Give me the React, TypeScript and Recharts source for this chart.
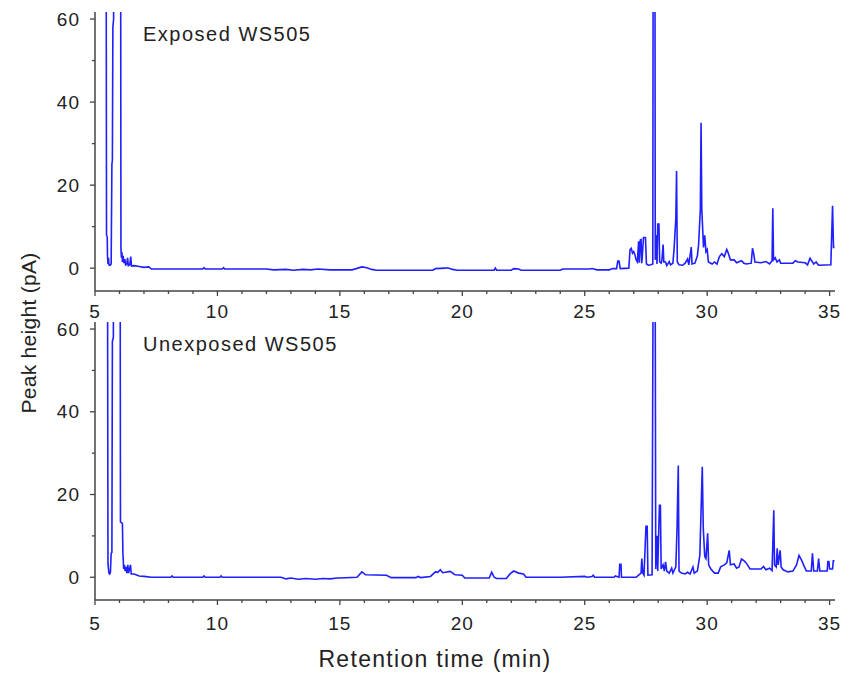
import React from 'react';
import { LineChart, Line, XAxis, YAxis } from 'recharts';

// retention time (min) and peak height (pA)
const exposedTime = [
	5.45, 5.47, 5.5, 5.51, 5.53, 5.55, 5.57, 5.62, 5.66, 5.69, 5.71, 5.73, 5.76, 5.78,
	6.04, 6.06, 6.08, 6.1, 6.12, 6.15, 6.18, 6.22, 6.25, 6.3, 6.33, 6.36, 6.42, 6.46, 6.49,
	6.6, 6.8, 7.0, 7.2, 7.3, 8.0, 9.4, 9.45, 9.5, 10.2, 10.25, 10.3, 12.0, 12.3, 12.8,
	13.1, 13.5, 13.8, 14.1, 14.6, 15.0, 15.5, 15.9, 16.1, 16.3, 16.5, 18.8, 18.9, 19.3,
	19.4, 19.6, 19.8, 21.3, 21.35, 21.4, 22.0, 22.1, 22.3, 22.4, 24.0, 24.1, 25.2, 25.3,
	25.5, 26.0, 26.15, 26.3, 26.35, 26.4, 26.45, 26.8, 26.85, 26.9, 26.95, 27.0, 27.05,
	27.1, 27.15, 27.2, 27.23, 27.27, 27.3, 27.33, 27.4, 27.48, 27.52, 27.6, 27.7, 27.78,
	27.8, 27.86, 27.88, 27.92, 27.95, 27.98, 28.03, 28.06, 28.12, 28.15, 28.2, 28.23,
	28.3, 28.35, 28.45, 28.5, 28.6, 28.65, 28.72, 28.75, 28.78, 28.85, 29.0, 29.1, 29.2,
	29.25, 29.35, 29.38, 29.5, 29.6, 29.65, 29.72, 29.75, 29.78, 29.85, 29.9, 29.95, 30.0,
	30.05, 30.2, 30.3, 30.4, 30.5, 30.6, 30.7, 30.8, 30.85, 30.95, 31.1, 31.2, 31.4, 31.5,
	31.6, 31.8, 31.85, 31.9, 31.95, 32.2, 32.4, 32.55, 32.65, 32.68, 32.71, 32.78, 32.85,
	32.95, 33.0, 33.5, 33.6, 33.7, 34.0, 34.1, 34.2, 34.3, 34.35, 34.45, 34.55, 35.05,
	35.12, 35.16, 35.2,
];
const exposedSignal = [
	120, 8, 7.5, 3, 1, 2.5, 0.8, 0.7, 1, 25, 26, 58, 60, 120,
	120, 4.5, 2.5, 3.8, 1.5, 3, 1.2, 2.2, 0.8, 1, 2.5, 0.6, 0.8, 2.8, 0.5,
	0.6, 0.4, 0.2, 0.3, -0.2, -0.2, -0.2, 0.1, -0.2, -0.2, 0.1, -0.2, -0.2, -0.4, -0.3,
	-0.5, -0.3, -0.4, -0.2, -0.4, -0.4, -0.4, 0.3, 0.1, -0.3, -0.5, -0.5, -0.1, 0,
	0.1, -0.3, -0.5, -0.5, 0, -0.5, -0.5, -0.1, -0.2, -0.5, -0.5, -0.2, -0.2, -0.1,
	-0.4, -0.4, -0.1, -0.1, 1.7, 1.7, -0.1, 0, 4.5, 4.8, 3.6, 4, 3.2,
	2, 1.5, 6.5, 1.3, 6.8, 6.9, 1.2, 7.4, 7.4, 1, 0.7, 0.8, 1,
	120, 120, 2, 8, 1, 10.6, 10.6, 1.5, 1.2, 1.8, 5.7, 1.5,
	1.5, 0.6, 1.6, 0.8, 1.2, 4.8, 12, 23.4, 1.5, 0.8, 0.7, 1.2, 2.2,
	0.8, 5.1, 1, 1.2, 3, 5.7, 14, 35, 14.2, 5, 7.9, 4, 4.5,
	1.5, 1, 1.5, 1, 2.8, 3.5, 2.8, 4.5, 3.8, 2, 2, 1.3, 1.8, 1.2,
	1, 1.2, 4.8, 3.5, 1.5, 1.3, 1.6, 1, 1.8, 14.4, 2, 2.5, 1.5,
	2, 1.2, 1.2, 1.8, 1.5, 1.3, 0.8, 2.4, 1.5, 1, 1.5, 0.7, 0.8,
	15, 5, 5,
];

const unexposedTime = [
	5.5, 5.53, 5.55, 5.57, 5.6, 5.63, 5.66, 5.69, 5.71, 5.75, 5.78,
	6.02, 6.04, 6.12, 6.14, 6.17, 6.2, 6.23, 6.27, 6.3, 6.34, 6.37, 6.45, 6.48,
	6.6, 6.8, 7.0, 7.3, 8.1, 8.15, 8.2, 9.4, 9.45, 9.5, 10.1, 10.15, 10.2, 12.6, 12.8,
	13.0, 13.3, 13.6, 14.0, 14.3, 14.6, 14.9, 15.0, 15.7, 15.9, 16.05, 16.9, 17.1,
	18.1, 18.2, 18.3, 18.7, 18.9, 19.0, 19.1, 19.2, 19.5, 19.7, 20.0, 20.1, 21.1,
	21.2, 21.3, 21.4, 21.8, 21.95, 22.1, 22.3, 22.5, 22.6, 24.0, 25.0, 25.1, 25.3,
	25.35, 25.4, 26.2, 26.25, 26.4, 26.43, 26.48, 26.5, 27.1, 27.2, 27.3, 27.33, 27.37,
	27.42, 27.5, 27.55, 27.58, 27.75, 27.82, 27.86, 27.9, 27.95, 27.98, 28.05, 28.09,
	28.12, 28.2, 28.25, 28.3, 28.35, 28.45, 28.55, 28.6, 28.72, 28.77, 28.82, 28.85,
	28.95, 29.1, 29.2, 29.3, 29.42, 29.47, 29.6, 29.7, 29.8, 29.84, 29.9, 29.95, 30.02,
	30.06, 30.15, 30.3, 30.45, 30.55, 30.7, 30.8, 30.9, 30.95, 31.1, 31.2, 31.3, 31.4,
	31.5, 31.6, 31.75, 32.0, 32.2, 32.3, 32.4, 32.55, 32.65, 32.72, 32.75, 32.82, 32.86,
	32.9, 32.98, 33.02, 33.1, 33.3, 33.5, 33.65, 33.75, 33.85, 33.95, 34.05, 34.25,
	34.3, 34.35, 34.5, 34.55, 34.6, 34.9, 34.93, 34.97, 35.0, 35.12, 35.15, 35.2,
];
const unexposedSignal = [
	120, 3.4, 2, 1, 0.8, 1.2, 5.8, 6, 57, 58, 120,
	120, 13.4, 13, 5.8, 2, 3, 1.5, 2.5, 1, 3, 1, 3, 0.8,
	0.8, 0.3, 0.2, 0, 0, 0.3, 0, 0, 0.3, 0, 0, 0.3, 0, 0, -0.4,
	-0.2, -0.5, -0.3, -0.5, -0.3, -0.4, -0.2, -0.2, 0, 1.3, 0.6, 0.5, -0.1,
	-0.1, 0.2, -0.1, 0.2, 1.3, 1.2, 1.8, 1.1, 1.4, 0.6, 0.5, -0.2, -0.2,
	1.2, 0, -0.3, -0.3, 0.8, 1.5, 1, 0.8, 0, 0, 0.2, 0, 0.2,
	0.5, 0, 0, 0.3, 0, 3.1, 3.1, 0, 0, 0.5, 1, 4.5, 1,
	0.5, 12.3, 12.3, 0.5, 0.6, 120, 120, 2, 10, 1.5, 17.4, 17.4,
	2, 3, 1.5, 3.7, 1.5, 1, 2.2, 1, 2.5, 12, 27, 1.5,
	1, 0.8, 1.2, 0.8, 2.5, 1, 1.5, 5.3, 26.7, 12, 5, 4.5, 10.6,
	3, 2, 1, 1, 2.5, 3, 3.5, 6.5, 3, 3.2, 2.2, 2.5, 4.4,
	4, 3.4, 2, 2, 2, 2.6, 1.8, 2.2, 1.6, 16.2, 3, 2.5, 7,
	3, 6.5, 2.5, 1.8, 1.3, 1.5, 3, 5.3, 4.2, 2.8, 1.5, 1.5,
	5.8, 1.5, 1.5, 4.5, 1.5, 1.5, 3.8, 3.8, 2, 2, 4, 4,
];

const xTicks = [5, 6, 7, 8, 9, 10, 11, 12, 13, 14, 15, 16, 17, 18, 19, 20, 21, 22, 23, 24, 25, 26, 27, 28, 29, 30, 31, 32, 33, 34, 35];
const yTicks = [0, 10, 20, 30, 40, 50, 60];
const panelTitles = ['Exposed WS505', 'Unexposed WS505'];

const exposedData = exposedTime.map((t, i) => ({ t, v: exposedSignal[i] }));
const unexposedData = unexposedTime.map((t, i) => ({ t, v: unexposedSignal[i] }));

const FONT = '"Liberation Sans", Arial, sans-serif';
const AXIS = '#444';
const TEXT = '#222';
const BLUE = '#1f1fff';

const XTick = (props: any) =>
{
	const { x, y, payload, gap } = props;
	const major = payload.value % 5 === 0;
	return (
		<g>
			<line x1={ x } x2={ x } y1={ y } y2={ y + (major ? 5 : 3) } stroke={ AXIS } strokeWidth={ 1.3 } />
			{ major && (
				<text x={ x } y={ y + gap } dy="0.71em" textAnchor="middle" fontSize={ 19 } fill={ TEXT } fontFamily={ FONT } letterSpacing={ 1 }>
					{ payload.value }
				</text>
			) }
		</g>
	);
};

const YTick = (props: any) =>
{
	const { x, y, payload } = props;
	const major = payload.value % 20 === 0;
	return (
		<g>
			<line x1={ x - (major ? 5 : 3) } x2={ x } y1={ y } y2={ y } stroke={ AXIS } strokeWidth={ 1.3 } />
			{ major && (
				<text x={ x - 15 } y={ y } dy="0.35em" textAnchor="end" fontSize={ 19 } fill={ TEXT } fontFamily={ FONT } letterSpacing={ 1 }>
					{ payload.value }
				</text>
			) }
		</g>
	);
};

const Panel = ({ data, height, bottom, labelGap }: { data: any[]; height: number; bottom: number; labelGap: number }) =>
{
	return (
		<LineChart width={ 857 } height={ height } data={ data } margin={ { top: 12, right: 22, left: 45, bottom } }>
			<XAxis
				dataKey="t"
				type="number"
				domain={ [5, 35.22] }
				ticks={ xTicks }
				interval={ 0 }
				allowDataOverflow
				height={ 39 }
				tickSize={ 0 }
				tickMargin={ 0 }
				tickLine={ false }
				axisLine={ { stroke: AXIS, strokeWidth: 1.5 } }
				tick={ <XTick gap={ labelGap } /> }
			/>
			<YAxis
				type="number"
				domain={ [-5.5, 61.7] }
				ticks={ yTicks }
				interval={ 0 }
				allowDataOverflow
				width={ 50 }
				tickSize={ 0 }
				tickMargin={ 0 }
				tickLine={ false }
				axisLine={ { stroke: AXIS, strokeWidth: 1.5 } }
				tick={ <YTick /> }
			/>
			<Line type="linear" dataKey="v" stroke={ BLUE } strokeWidth={ 1.6 } dot={ false } isAnimationActive={ false } />
		</LineChart>
	);
};

export default function App()
{
	return (
		<div style={ { position: 'absolute', left: 0, top: 0, width: 857, height: 674, background: '#fff', fontFamily: FONT } }>
			<div style={ { position: 'absolute', left: 0, top: 0 } }>
				<Panel data={ exposedData } height={ 330 } bottom={ 0 } labelGap={ 14 } />
			</div>
			<div style={ { position: 'absolute', left: 0, top: 310 } }>
				<Panel data={ unexposedData } height={ 364 } bottom={ 35 } labelGap={ 17 } />
			</div>
			<svg width={ 857 } height={ 674 } style={ { position: 'absolute', left: 0, top: 0, pointerEvents: 'none' } }>
				<text x={ 143 } y={ 41 } fontSize={ 20 } fill={ TEXT } fontFamily={ FONT } letterSpacing={ 1.5 }>{ panelTitles[0] }</text>
				<text x={ 143 } y={ 351 } fontSize={ 20 } fill={ TEXT } fontFamily={ FONT } letterSpacing={ 1.5 }>{ panelTitles[1] }</text>
				<text transform="translate(29,333) rotate(-90)" textAnchor="middle" dy="0.35em" fontSize={ 21 } fill={ TEXT } fontFamily={ FONT } letterSpacing={ 0.3 }>
					Peak height (pA)
				</text>
				<text x={ 435 } y={ 667 } textAnchor="middle" fontSize={ 23 } fill={ TEXT } fontFamily={ FONT } letterSpacing={ 1.3 }>
					Retention time (min)
				</text>
			</svg>
		</div>
	);
}
